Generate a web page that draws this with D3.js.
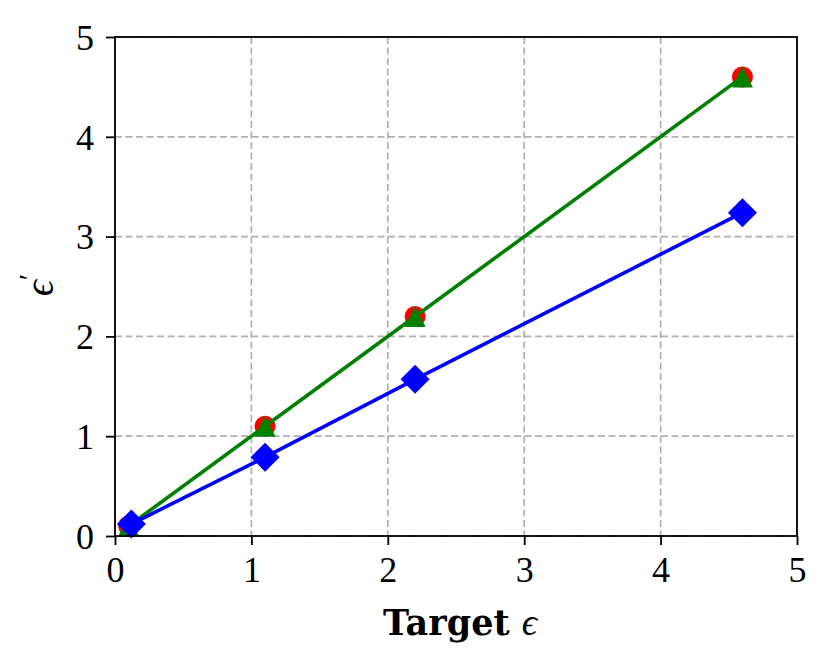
<!DOCTYPE html>
<html><head><meta charset="utf-8">
<script src="https://cdn.jsdelivr.net/npm/d3@7"></script>
<style>body{margin:0;background:#fff}</style>
</head><body>
<svg id="c" width="831" height="668"></svg>
<script>
const xTicks = [0,1,2,3,4,5];
const yTicks = [0,1,2,3,4,5];
const targetEps = [0.1, 1.1, 2.2, 4.6];
const redVals = [0.1, 1.1, 2.2, 4.6];
const greenVals = [0.1, 1.1, 2.2, 4.6];
const blueX = [0.12, 1.1, 2.2, 4.6];
const blueVals = [0.12, 0.79, 1.57, 3.24];

const svg = d3.select("#c");
const m = {l:115, r:797, t:37, b:536};
const x = d3.scaleLinear().domain([0,5]).range([m.l, m.r]);
const y = d3.scaleLinear().domain([0,5]).range([m.b, m.t]);
const font = "'Liberation Serif','DejaVu Serif',serif";

// grid
const g = svg.append("g");
g.selectAll(".gx").data(xTicks).enter().append("line")
  .attr("x1", d=>x(d)).attr("x2", d=>x(d)).attr("y1", m.t).attr("y2", m.b)
  .attr("stroke","#b0b0b0").attr("stroke-width",1.7).attr("stroke-dasharray","7,3.5");
g.selectAll(".gy").data(yTicks).enter().append("line")
  .attr("y1", d=>y(d)).attr("y2", d=>y(d)).attr("x1", m.l).attr("x2", m.r)
  .attr("stroke","#b0b0b0").attr("stroke-width",1.7).attr("stroke-dasharray","7,3.5");

// axes
const xa = svg.append("g").attr("transform",`translate(0,${m.b})`)
  .call(d3.axisBottom(x).tickValues(xTicks).tickSize(9).tickFormat(d3.format("d")));
const ya = svg.append("g").attr("transform",`translate(${m.l},0)`)
  .call(d3.axisLeft(y).tickValues(yTicks).tickSize(9).tickFormat(d3.format("d")));
[xa,ya].forEach(a=>{
  a.select(".domain").remove();
  a.attr("font-family", font);
  a.selectAll(".tick line").attr("stroke","#000").attr("stroke-width",1.8);
  a.selectAll(".tick text").attr("font-family",font).attr("font-size",36).attr("fill","#000");
});
xa.selectAll(".tick text").attr("y",46).attr("dy",0);
ya.selectAll(".tick text").attr("x",-21).attr("dy","0.34em");

// series
const pts = (xs, ys) => xs.map((v,i)=>[v, ys[i]]);
const line = d3.line().x(d=>x(d[0])).y(d=>y(d[1]));
const red = pts(targetEps, redVals), green = pts(targetEps, greenVals), blue = pts(blueX, blueVals);

svg.selectAll(".rc").data(red).enter().append("circle")
  .attr("cx", d=>x(d[0])).attr("cy", d=>y(d[1])).attr("r", 10.5).attr("fill","red");

svg.append("path").datum(green).attr("d", line).attr("fill","none").attr("stroke","green").attr("stroke-width",3.6);
svg.selectAll(".gt").data(green).enter().append("path")
  .attr("transform", d=>`translate(${x(d[0])},${y(d[1])})`)
  .attr("d","M0,-10.5L10.5,10.5L-10.5,10.5Z").attr("fill","green");

svg.append("path").datum(blue).attr("d", line).attr("fill","none").attr("stroke","blue").attr("stroke-width",3.6);
svg.selectAll(".bd").data(blue).enter().append("path")
  .attr("transform", d=>`translate(${x(d[0])},${y(d[1])})`)
  .attr("d","M0,-14.5L14.5,0L0,14.5L-14.5,0Z").attr("fill","blue");

// frame
svg.append("rect").attr("x",m.l).attr("y",m.t).attr("width",m.r-m.l).attr("height",m.b-m.t)
  .attr("fill","none").attr("stroke","#000").attr("stroke-width",1.8);

// labels
const xl = svg.append("text").attr("x",(m.l+m.r)/2 + 4).attr("y",635).attr("text-anchor","middle")
  .attr("fill","#000");
xl.append("tspan").attr("font-family","'DejaVu Serif',serif").attr("font-size",35).attr("font-weight","bold").text("Target ");
xl.append("tspan").attr("font-family",font).attr("font-size",38).attr("font-style","italic").text("ϵ");

const yl = svg.append("text").attr("transform","translate(53,285) rotate(-90)").attr("text-anchor","middle")
  .attr("font-family",font).attr("font-size",40).attr("font-style","italic").attr("fill","#000");
yl.append("tspan").text("ϵ");
yl.append("tspan").attr("dy",-14).attr("font-size",30).attr("font-style","normal").text("′");
</script>
</body></html>
